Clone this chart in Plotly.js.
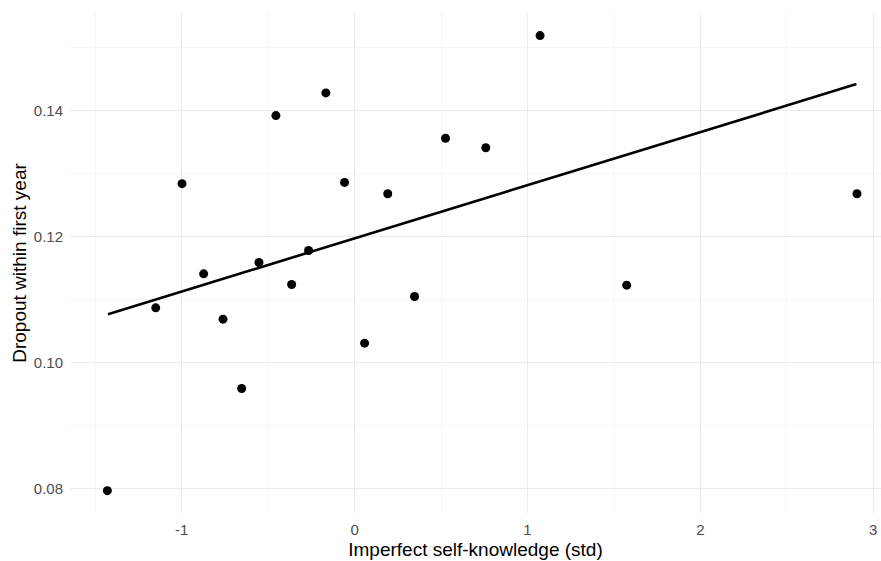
<!DOCTYPE html>
<html>
<head>
<meta charset="utf-8">
<script src="https://cdn.plot.ly/plotly-3.0.1.min.js"></script>
<style>html,body{margin:0;padding:0;background:#fff;}#chart{width:881px;height:561px;}</style>
</head>
<body>
<div id="chart"></div>
<script>
// Imperfect self-knowledge (std) vs dropout within first year
const selfKnowledge = [-1.430, -1.150, -0.998, -0.873, -0.761, -0.653, -0.553, -0.455, -0.364, -0.266,
                       -0.166, -0.058, 0.058, 0.192, 0.347, 0.526, 0.759, 1.073, 1.574, 2.906];
const dropoutRate   = [0.0797, 0.1087, 0.1284, 0.1141, 0.1069, 0.0959, 0.1159, 0.1392, 0.1124, 0.1178,
                       0.1428, 0.1286, 0.1031, 0.1268, 0.1105, 0.1356, 0.1341, 0.1519, 0.1123, 0.1268];
// fitted linear trend, read at its two ends
const fitX = [-1.426, 2.903];
const fitY = [0.1077, 0.1442];

const xTickVals = [-1, 0, 1, 2, 3];
const xTickText = ['-1', '0', '1', '2', '3'];
const yTickVals = [0.08, 0.10, 0.12, 0.14];
const yTickText = ['0.08', '0.10', '0.12', '0.14'];

const FONT = 'Liberation Sans, Arial, Helvetica, sans-serif';

const traces = [
  {
    x: fitX, y: fitY, type: 'scatter', mode: 'lines',
    line: {color: '#000000', width: 2.6},
    hoverinfo: 'skip', showlegend: false
  },
  {
    x: selfKnowledge, y: dropoutRate, type: 'scatter', mode: 'markers',
    marker: {color: '#000000', size: 9},
    showlegend: false
  }
];

const layout = {
  width: 881, height: 561,
  margin: {l: 70, r: 0, t: 13, b: 48},
  paper_bgcolor: '#ffffff', plot_bgcolor: '#ffffff',
  font: {family: FONT, color: '#000000'},
  showlegend: false,
  xaxis: {
    range: [-1.646, 3.045],
    tickmode: 'array', tickvals: xTickVals, ticktext: xTickText,
    ticks: 'outside', ticklen: 3, tickcolor: 'rgba(0,0,0,0)',
    tickfont: {family: FONT, size: 15, color: '#4D4D4D'},
    showgrid: true, gridcolor: '#EBEBEB', gridwidth: 1.4,
    minor: {tickmode: 'array', tickvals: [-1.5, -0.5, 0.5, 1.5, 2.5], showgrid: true, gridcolor: '#F3F3F3', gridwidth: 0.8, ticks: ''},
    zeroline: false, showline: false,
    title: {text: 'Imperfect self-knowledge (std)', font: {family: FONT, size: 19, color: '#000000'}, standoff: 5}
  },
  yaxis: {
    range: [0.07615, 0.15548],
    tickmode: 'array', tickvals: yTickVals, ticktext: yTickText,
    ticks: 'outside', ticklen: 3, tickcolor: 'rgba(0,0,0,0)',
    tickfont: {family: FONT, size: 15, color: '#4D4D4D'},
    showgrid: true, gridcolor: '#EBEBEB', gridwidth: 1.4,
    minor: {tickmode: 'array', tickvals: [0.09, 0.11, 0.13, 0.15], showgrid: true, gridcolor: '#F3F3F3', gridwidth: 0.8, ticks: ''},
    zeroline: false, showline: false,
    title: {text: 'Dropout within first year', font: {family: FONT, size: 19, color: '#000000'}, standoff: 2}
  }
};

Plotly.newPlot('chart', traces, layout, {displayModeBar: false, staticPlot: true});
</script>
</body>
</html>
